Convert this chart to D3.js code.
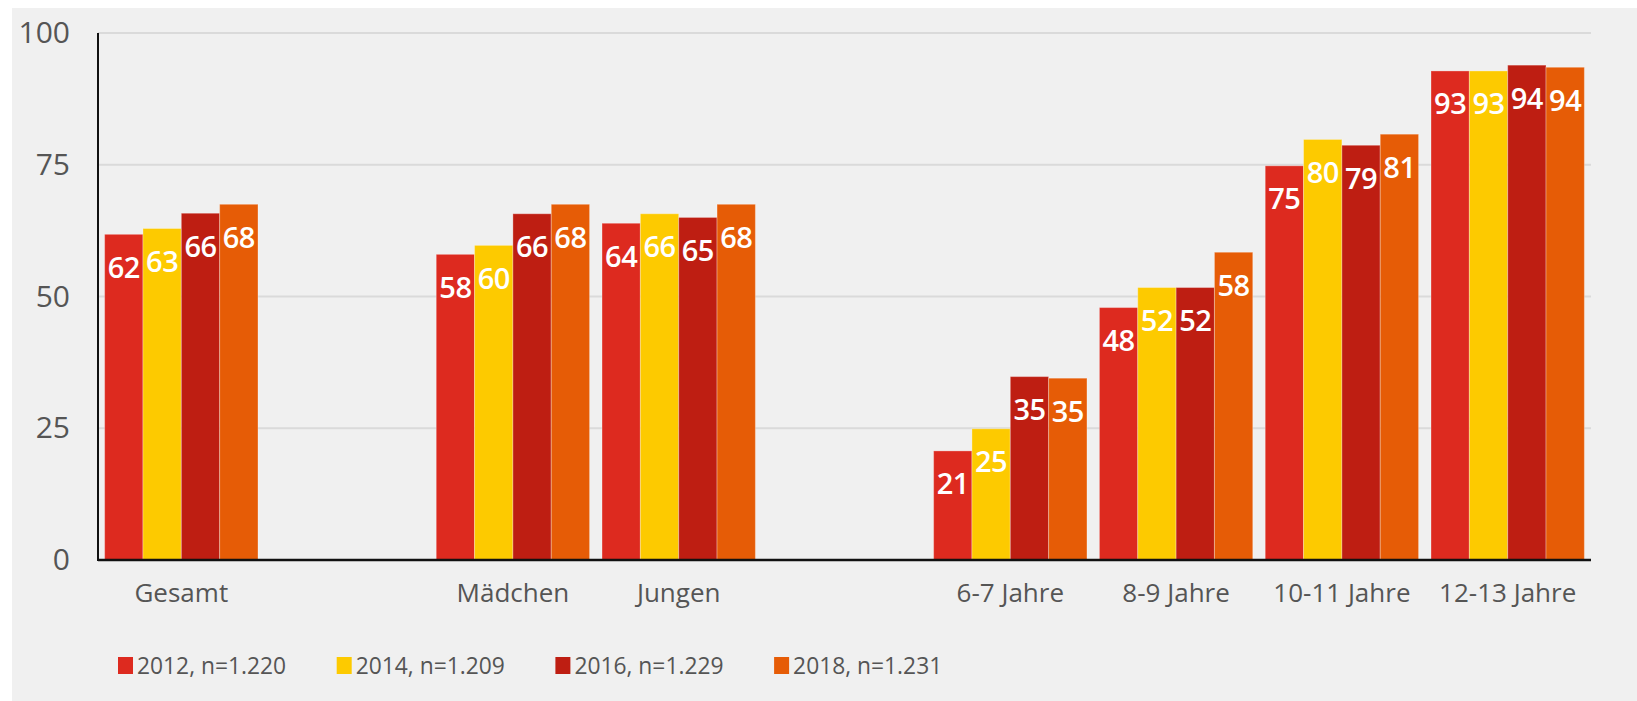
<!DOCTYPE html>
<html>
<head>
<meta charset="utf-8">
<script src="https://cdn.jsdelivr.net/npm/d3@7"></script>
<style>
  html, body { margin: 0; padding: 0; background: #fff; }
  svg { display: block; font-family: "Open Sans", sans-serif; }
</style>
</head>
<body>
<svg id="chart" width="1637" height="701"></svg>
<script>
'use strict';

// category groups, gaps are put between them
var groups = [
	['Gesamt'],
	['Mädchen', 'Jungen'],
	['6-7 Jahre', '8-9 Jahre', '10-11 Jahre', '12-13 Jahre']
];

var series = ['2012, n=1.220', '2014, n=1.209', '2016, n=1.229', '2018, n=1.231'];

// values per series, same order as the categories
var v2012 = [61.8, 58.0, 63.9, 20.7, 47.9, 74.8, 92.8];
var v2014 = [62.9, 59.7, 65.7, 24.9, 51.7, 79.8, 92.8];
var v2016 = [65.8, 65.7, 65.0, 34.8, 51.7, 78.7, 93.9];
var v2018 = [67.5, 67.5, 67.5, 34.5, 58.4, 80.8, 93.5];

var yTicks = [0, 25, 50, 75, 100];

var colors = ['#dd2a1f', '#fdca00', '#be1e12', '#e65c06'];

var svg = d3.select('#chart');

// background panel
svg.append('rect')
	.attr('x', 12).attr('y', 8)
	.attr('width', 1637 - 12).attr('height', 701 - 8)
	.attr('fill', '#f0f0f0');

var categories = [].concat.apply([], groups);
var values = [v2012, v2014, v2016, v2018];

// slots for the x scale: categories with a gap between groups
var slots = [];
groups.forEach(function(g, i){
	if (i > 0) slots.push('__gap' + i);
	g.forEach(function(c){ slots.push(c); });
});

var x = d3.scaleBand()
	.domain(slots)
	.range([98, 1591])
	.paddingInner(0.075)
	.paddingOuter(0.04);

var xs = d3.scaleBand()
	.domain(series)
	.range([0, x.bandwidth()]);

var y = d3.scaleLinear()
	.domain([0, 100])
	.range([560, 33]);

// gridlines
svg.append('g')
	.selectAll('line')
	.data(yTicks.filter(function(t){ return t > 0; }))
	.join('line')
		.attr('x1', 98).attr('x2', 1591)
		.attr('y1', function(d){ return y(d); })
		.attr('y2', function(d){ return y(d); })
		.attr('stroke', '#dadada')
		.attr('stroke-width', 2);

// y axis
var yAxis = svg.append('g')
	.attr('transform', 'translate(98,0)')
	.call(d3.axisLeft(y).tickValues(yTicks).tickSize(0).tickPadding(28));
yAxis.select('.domain').remove();
yAxis.selectAll('text')
	.attr('font-size', 30)
	.attr('font-family', '"Open Sans", sans-serif')
	.attr('fill', '#555');

// bars
var rows = [];
categories.forEach(function(c, i){
	series.forEach(function(s, j){
		rows.push({cat: c, ser: s, val: values[j][i], col: colors[j]});
	});
});

var bars = svg.append('g');
bars.selectAll('rect')
	.data(rows)
	.join('rect')
		.attr('x', function(d){ return x(d.cat) + xs(d.ser); })
		.attr('y', function(d){ return y(d.val); })
		.attr('width', xs.bandwidth())
		.attr('height', function(d){ return y(0) - y(d.val); })
		.attr('fill', function(d){ return d.col; })
		.attr('stroke', 'rgba(255,255,255,0.3)')
		.attr('stroke-width', 1);

bars.selectAll('text')
	.data(rows)
	.join('text')
		.attr('x', function(d){ return x(d.cat) + xs(d.ser) + xs.bandwidth() / 2; })
		.attr('y', function(d){ return y(d.val) + 32; })
		.attr('text-anchor', 'middle')
		.attr('dominant-baseline', 'central')
		.attr('font-size', 29)
		.attr('font-weight', 600)
		.attr('letter-spacing', -0.5)
		.attr('fill', '#fff')
		.text(function(d){ return Math.round(d.val); });

// axis lines
svg.append('line')
	.attr('x1', 98).attr('x2', 98)
	.attr('y1', y(100)).attr('y2', y(0) + 1)
	.attr('stroke', '#111').attr('stroke-width', 2);

var xAxis = svg.append('g')
	.attr('transform', 'translate(0,' + y(0) + ')')
	.call(d3.axisBottom(x).tickValues(categories).tickSize(0).tickPadding(24));
xAxis.select('.domain')
	.attr('d', 'M98,0H1591')
	.attr('stroke', '#111')
	.attr('stroke-width', 2.5);
xAxis.selectAll('text')
	.attr('font-size', 26)
	.attr('font-family', '"Open Sans", sans-serif')
	.attr('fill', '#555');

// legend
var legend = svg.append('g')
	.attr('transform', 'translate(118,657)');
var items = legend.selectAll('g')
	.data(series)
	.join('g')
		.attr('transform', function(d, i){ return 'translate(' + (i * 218.7) + ',0)'; });
items.append('rect')
	.attr('width', 15).attr('height', 17)
	.attr('fill', function(d, i){ return colors[i]; });
items.append('text')
	.attr('x', 19).attr('y', 8.5)
	.attr('dominant-baseline', 'central')
	.attr('font-size', 22.8)
	.attr('fill', '#555')
	.text(function(d){ return d; });
</script>
</body>
</html>
